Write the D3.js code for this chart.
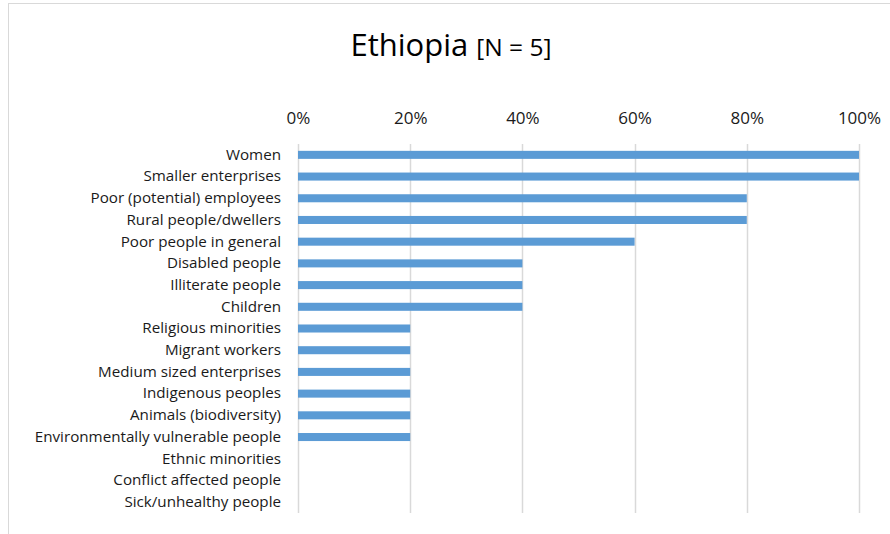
<!DOCTYPE html>
<html>
<head>
<meta charset="utf-8">
<script src="https://cdn.jsdelivr.net/npm/d3@7"></script>
<style>
  html, body { margin: 0; padding: 0; background: #fff; }
  svg text { font-family: "Open Sans", "Noto Sans", sans-serif; }
</style>
</head>
<body>
<svg id="chart" width="890" height="534"></svg>
<script>
// Target groups, top to bottom
const categories = [
  "Women",
  "Smaller enterprises",
  "Poor (potential) employees",
  "Rural people/dwellers",
  "Poor people in general",
  "Disabled people",
  "Illiterate people",
  "Children",
  "Religious minorities",
  "Migrant workers",
  "Medium sized enterprises",
  "Indigenous peoples",
  "Animals (biodiversity)",
  "Environmentally vulnerable people",
  "Ethnic minorities",
  "Conflict affected people",
  "Sick/unhealthy people"
];
// Share of respondents (N = 5)
const shares = [1.0, 1.0, 0.8, 0.8, 0.6, 0.4, 0.4, 0.4, 0.2, 0.2, 0.2, 0.2, 0.2, 0.2, 0, 0, 0];
const tickValues = [0, 0.2, 0.4, 0.6, 0.8, 1.0];
const titleMain = "Ethiopia";
const titleSub = "[N = 5]";

const svg = d3.select("#chart");

// chart frame
svg.append("rect")
  .attr("x", 8.5).attr("y", 3.5)
  .attr("width", 900).attr("height", 560)
  .attr("fill", "none").attr("stroke", "#d9d9d9").attr("stroke-width", 1);

const plot = { left: 298, right: 859, top: 144, bottom: 513 };

const x = d3.scaleLinear().domain([0, 1]).range([plot.left, plot.right]);
const y = d3.scaleBand().domain(categories).range([plot.top, plot.bottom]).paddingInner(0.63).paddingOuter(0.315);

// vertical gridlines
svg.append("g").selectAll("line")
  .data(tickValues)
  .join("line")
  .attr("x1", d => Math.round(x(d)) + 0.5)
  .attr("x2", d => Math.round(x(d)) + 0.5)
  .attr("y1", plot.top).attr("y2", plot.bottom)
  .attr("stroke", "#d9d9d9").attr("stroke-width", 1.5);

// top axis labels
const xAxis = d3.axisTop(x).tickValues(tickValues).tickFormat(d3.format(".0%")).tickSize(0).tickPadding(0);
const gx = svg.append("g").attr("transform", `translate(0, 124)`).call(xAxis);
gx.select(".domain").remove();
gx.selectAll("text")
  .attr("font-size", 17)
  .attr("fill", "#1a1a1a")
  .attr("font-family", "Open Sans, sans-serif");

// category labels
const yAxis = d3.axisLeft(y).tickSize(0).tickPadding(0);
const gy = svg.append("g").attr("transform", `translate(281, 0)`).call(yAxis);
gy.select(".domain").remove();
gy.selectAll("text")
  .attr("font-size", 15.2)
  .attr("fill", "#1a1a1a")
  .attr("font-family", "Open Sans, sans-serif");

// bars
svg.append("g").selectAll("rect")
  .data(categories.map((c, i) => ({ c, v: shares[i] })).filter(d => d.v > 0))
  .join("rect")
  .attr("x", x(0))
  .attr("y", d => y(d.c))
  .attr("width", d => x(d.v) - x(0))
  .attr("height", y.bandwidth())
  .attr("fill", "#5b9bd5");

// title
const title = svg.append("text")
  .attr("x", 451).attr("y", 56)
  .attr("text-anchor", "middle")
  .attr("fill", "#000");
title.append("tspan").attr("font-size", 31).text(titleMain + " ");
title.append("tspan").attr("font-size", 24.5).text(titleSub);
</script>
</body>
</html>
